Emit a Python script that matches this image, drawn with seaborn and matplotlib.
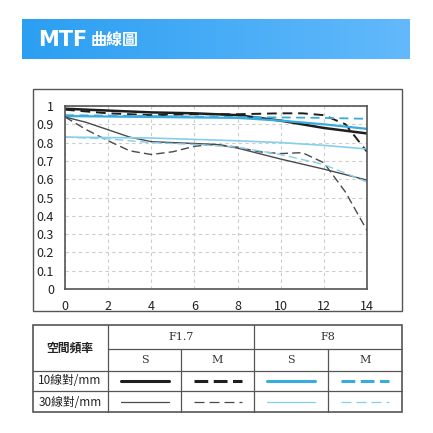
import matplotlib
matplotlib.use("Agg")
import matplotlib.pyplot as plt
import seaborn as sns
import numpy as np
import pandas as pd

sns.set_style("white")
plt.rcParams['font.family'] = ['Noto Sans CJK TC', 'DejaVu Sans']

x_s10 = [0, 2, 4, 6, 8, 10, 12, 14]
f17_s10 = [0.985, 0.975, 0.965, 0.96, 0.95, 0.92, 0.88, 0.85]
x_m10 = [0, 2, 4, 6, 8, 10, 11, 12, 13, 14]
f17_m10 = [0.98, 0.96, 0.95, 0.955, 0.955, 0.96, 0.96, 0.95, 0.9, 0.75]
x_f8s10 = [0, 4, 8, 10, 12, 14]
f8_s10 = [0.945, 0.94, 0.935, 0.92, 0.9, 0.875]
x_f8m10 = [0, 4, 8, 12, 14]
f8_m10 = [0.95, 0.945, 0.94, 0.935, 0.93]
x_s30 = [0, 1, 2, 3, 4, 5, 6, 7, 8, 10, 12, 14]
f17_s30 = [0.94, 0.91, 0.87, 0.83, 0.805, 0.8, 0.795, 0.79, 0.77, 0.71, 0.655, 0.595]
x_m30 = [0, 1, 2, 3, 4, 5, 6, 7, 8, 9, 10, 11, 12, 13, 14]
f17_m30 = [0.94, 0.87, 0.81, 0.755, 0.735, 0.75, 0.78, 0.79, 0.775, 0.75, 0.74, 0.745, 0.69, 0.53, 0.32]
x_f8s30 = [0, 4, 8, 10, 12, 14]
f8_s30 = [0.83, 0.825, 0.81, 0.8, 0.785, 0.765]
x_f8m30 = [0, 2, 4, 6, 8, 10, 12, 14]
f8_m30 = [0.83, 0.82, 0.80, 0.79, 0.775, 0.735, 0.68, 0.585]

xticks = [0, 2, 4, 6, 8, 10, 12, 14]
yticks = [0, 0.1, 0.2, 0.3, 0.4, 0.5, 0.6, 0.7, 0.8, 0.9, 1]

W = H = 433
fig = plt.figure(figsize=(4.33, 4.33), dpi=100)

def pax(x0, y0, x1, y1):
    return fig.add_axes([x0 / W, 1 - y1 / H, (x1 - x0) / W, (y1 - y0) / H])

ov = fig.add_axes([0, 0, 1, 1])
ov.set_xlim(0, W); ov.set_ylim(H, 0); ov.axis('off')
grad = np.linspace(0, 1, 256).reshape(1, -1)
from matplotlib.colors import LinearSegmentedColormap
cm = LinearSegmentedColormap.from_list('g', ['#2b9ff2', '#63b9fb'])
ov.imshow(grad, cmap=cm, extent=[22, 410, 59, 19], aspect='auto')
ov.text(38, 40, 'MTF', color='white', fontsize=15, fontweight='bold', va='center', family=['DejaVu Sans'])
ov.text(91, 40, '曲線圖', color='white', fontsize=11.5, fontweight='bold', va='center')
ov.add_patch(plt.Rectangle((33, 89), 369, 222, fill=False, ec='#555555', lw=1))

ax = pax(65, 106, 367, 289)
C_BLACK = '#1e1e1e'; C_GRAY = '#4a4a4a'; C_BLUE = '#39acdf'; C_LBLUE = '#86cfe9'
series = [
    (x_s10, f17_s10, C_BLACK, 1.8, '-'),
    (x_m10, f17_m10, C_BLACK, 1.4, (0, (5, 3))),
    (x_f8s10, f8_s10, C_BLUE, 1.6, '-'),
    (x_f8m10, f8_m10, C_BLUE, 1.3, (0, (5, 3))),
    (x_s30, f17_s30, C_GRAY, 1.0, '-'),
    (x_m30, f17_m30, C_GRAY, 1.0, (0, (6, 3))),
    (x_f8s30, f8_s30, C_LBLUE, 1.2, '-'),
    (x_f8m30, f8_m30, C_LBLUE, 1.0, (0, (6, 3))),
]
for xs, ys, c, lw, ls in series:
    sns.lineplot(x=xs, y=ys, ax=ax, color=c, lw=lw, linestyle=ls)
ax.set_xlim(0, 14); ax.set_ylim(0, 1)
ax.set_xticks(xticks); ax.set_yticks(yticks)
ax.set_xticklabels([str(t) for t in xticks], fontsize=9, color='#222')
ax.set_yticklabels(['0', '0.1', '0.2', '0.3', '0.4', '0.5', '0.6', '0.7', '0.8', '0.9', '1'], fontsize=9, color='#222')
ax.grid(True, color='#cccccc', linestyle=(0, (3, 3)), lw=0.8)
for s in ax.spines.values():
    s.set_color('#555555'); s.set_linewidth(1.2)
ax.tick_params(length=0, pad=8)

cols = [33, 108, 181, 254, 328, 402]
lc = '#555555'
ov.add_patch(plt.Rectangle((33, 325), 369, 87, fill=False, ec=lc, lw=1.2))
for cx in cols[1:-1]:
    y0 = 325 if cx in (108, 254) else 349
    ov.plot([cx, cx], [y0, 412], color=lc, lw=0.9)
ov.plot([108, 402], [349, 349], color=lc, lw=0.9)
ov.plot([33, 402], [371, 371], color=lc, lw=0.9)
ov.plot([33, 402], [391, 391], color=lc, lw=0.9)
ov.text(70, 348, '空間頻率', fontsize=8.5, fontweight='bold', ha='center', va='center', color='#222')
ov.text(181, 337, 'F1.7', fontsize=8, ha='center', va='center', family='DejaVu Serif', color='#333')
ov.text(328, 337, 'F8', fontsize=8, ha='center', va='center', family='DejaVu Serif', color='#333')
for i, lab in enumerate(['S', 'M', 'S', 'M']):
    ov.text((cols[i+1] + cols[i+2]) / 2, 360, lab, fontsize=8, ha='center', va='center', family='DejaVu Serif', color='#333')
ov.text(70, 381, '10線對/mm', fontsize=8.5, fontweight='medium', ha='center', va='center', color='#222')
ov.text(70, 402, '30線對/mm', fontsize=8.5, fontweight='medium', ha='center', va='center', color='#222')
for i, (xs, ys, c, lw, ls) in enumerate(series):
    col = i % 4
    row = i // 4
    cx = (cols[col+1] + cols[col+2]) / 2
    cy = 381 if row == 0 else 402
    lwl = 2.2 if row == 0 else 0.9
    dash = (0, (4.5, 1.8)) if row == 0 else (0, (8, 4))
    ov.plot([cx - 24, cx + 24], [cy, cy], color=c, lw=lwl,
            linestyle=('-' if ls == '-' else dash))

fig.savefig('out.png', dpi=100)
